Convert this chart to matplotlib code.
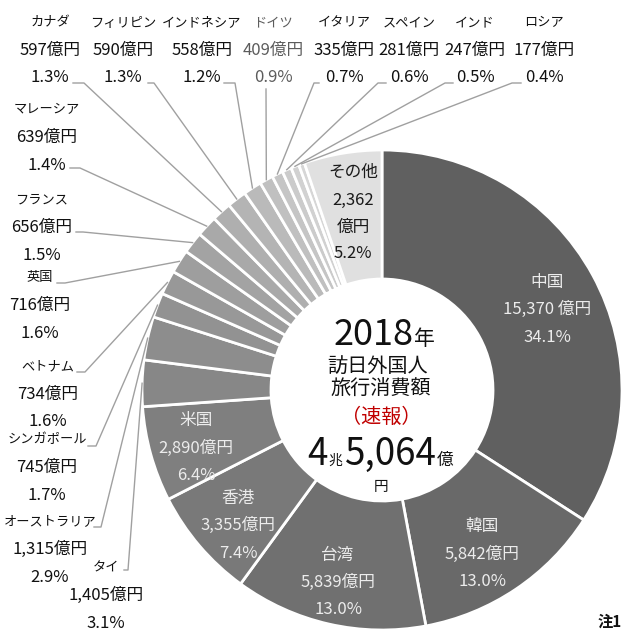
import numpy as np
import matplotlib
matplotlib.use("Agg")
import matplotlib.pyplot as plt

plt.rcParams['font.family'] = ['Noto Sans CJK JP', 'DejaVu Sans']

# データ（2018年 訪日外国人旅行消費額, 億円）
names = ['中国', '韓国', '台湾', '香港', '米国', 'タイ', 'オーストラリア', 'シンガポール',
         'ベトナム', '英国', 'フランス', 'マレーシア', 'カナダ', 'フィリピン', 'インドネシア',
         'ドイツ', 'イタリア', 'スペイン', 'インド', 'ロシア', 'その他']
values = [15370, 5842, 5839, 3355, 2890, 1405, 1315, 745, 734, 716, 656, 639,
          597, 590, 558, 409, 335, 281, 247, 177, 2362]
shares = ['34.1%', '13.0%', '13.0%', '7.4%', '6.4%', '3.1%', '2.9%', '1.7%', '1.6%',
          '1.6%', '1.5%', '1.4%', '1.3%', '1.3%', '1.2%', '0.9%', '0.7%', '0.6%',
          '0.5%', '0.4%', '5.2%']

# 色（濃いグレー→薄いグレー）
big_cols = ['#606060', '#696969', '#707070', '#797979', '#7f7f7f']
small_lv = np.linspace(0.53, 0.84, 15)
colors = big_cols + [(g, g, g) for g in small_lv] + ['#e0e0e0']

W, H = 624, 635
fig = plt.figure(figsize=(W / 100, H / 100), dpi=100)
ax = fig.add_axes([0, 0, 1, 1])

def ty(y):
    return H - y

cx, cy, R, r_in = 382, 390, 240, 111
wedges, _ = ax.pie(values, colors=colors, startangle=90, counterclock=False,
                   center=(cx, ty(cy)), radius=R, frame=True,
                   wedgeprops=dict(width=R - r_in, edgecolor='white', linewidth=2))
ax.set_xlim(0, W)
ax.set_ylim(0, H)
ax.axis('off')

def edge_point(w):
    a = np.radians((w.theta1 + w.theta2) / 2)
    return cx + R * np.cos(a), ty(cy) + R * np.sin(a)

# 内側ラベル（大きい国）
inner = {'中国': (547, 282), '韓国': (482, 527), '台湾': (338, 555),
         '香港': (238, 498), '米国': (196, 421)}
for i, n in enumerate(names[:5]):
    x, y = inner[n]
    val = f'{values[i]:,} 億円' if n == '中国' else f'{values[i]:,}億円'
    for k, s in enumerate([n, val, shares[i]]):
        ax.text(x, ty(y + k * 27.5), s, ha='center', va='center',
                fontsize=12, color='#ececec')

# その他
dark = '#1a1a1a'
ax.text(353, ty(172), 'その他', ha='center', va='center', fontsize=12, color=dark)
ax.text(353, ty(200), f'{values[-1]:,}', ha='center', va='center', fontsize=12, color=dark)
ax.text(353, ty(227), '億円', ha='center', va='center', fontsize=12, color=dark)
ax.text(353, ty(253), shares[-1], ha='center', va='center', fontsize=12, color=dark)

# 外側ラベル: (中心x, 1行目y, 引出線始点x, 始点y, 折れ点x)
outer = {
    'タイ': (106, 568, 124, 570, 128),
    'オーストラリア': (50, 522, 94, 527, 101),
    'シンガポール': (47, 440, 88, 446, 96),
    'ベトナム': (48, 367, 77, 372, 85),
    '英国': (40, 278, 57, 283, 65),
    'フランス': (42, 200, 76, 232, 83),
    'マレーシア': (47, 110, 70, 168, 80),
    'カナダ': (50, 23, 73, 83, 84),
    'フィリピン': (123, 23, 148, 83, 154),
    'インドネシア': (202, 23, 224, 83, 235),
    'ドイツ': (273, 23, 266, 89, 266),
    'イタリア': (344, 23, 319, 83, 314),
    'スペイン': (409, 23, 386, 83, 378),
    'インド': (475, 23, 453, 83, 445),
    'ロシア': (544, 23, 521, 83, 512),
}
for i in range(5, 20):
    n = names[i]
    x, y0, sx, sy, kx = outer[n]
    col = '#5c5c5c' if n == 'ドイツ' else '#111111'
    ax.text(x, ty(y0), n, ha='center', va='center', fontsize=9.5, color=col)
    ax.text(x, ty(y0 + 27.5), f'{values[i]:,}億円', ha='center', va='center',
            fontsize=12, color=col)
    ax.text(x, ty(y0 + 55), shares[i], ha='center', va='center', fontsize=12, color=col)
    ex, ey = edge_point(wedges[i])
    ax.plot([sx, kx, ex], [ty(sy), ty(sy), ey], color='#a0a0a0', lw=1, clip_on=False)

# 中央テキスト
ax.text(414, ty(345), '2018', ha='right', va='baseline', fontsize=26, color='#111111')
ax.text(414, ty(345), '年', ha='left', va='baseline', fontsize=15, color='#111111')
ax.text(378, ty(366), '訪日外国人', ha='center', va='center', fontsize=14.5, color='#111111')
ax.text(381, ty(389), '旅行消費額', ha='center', va='center', fontsize=14.5, color='#111111')
ax.text(381, ty(417), '（速報）', ha='center', va='center', fontsize=14.5, color='#c00000')
ax.text(328, ty(465), '4', ha='right', va='baseline', fontsize=26.5, color='#111111')
ax.text(328, ty(465), '兆', ha='left', va='baseline', fontsize=10, color='#111111')
ax.text(391, ty(465), '5,064', ha='center', va='baseline', fontsize=26.5, color='#111111')
ax.text(437, ty(465), '億', ha='left', va='baseline', fontsize=12, color='#111111')
ax.text(381, ty(491), '円', ha='center', va='baseline', fontsize=10.5, color='#111111')

ax.text(598, ty(622), '注1', ha='left', va='center', fontsize=11,
        fontweight='bold', color='#111111')

fig.savefig('out.png', dpi=100)
